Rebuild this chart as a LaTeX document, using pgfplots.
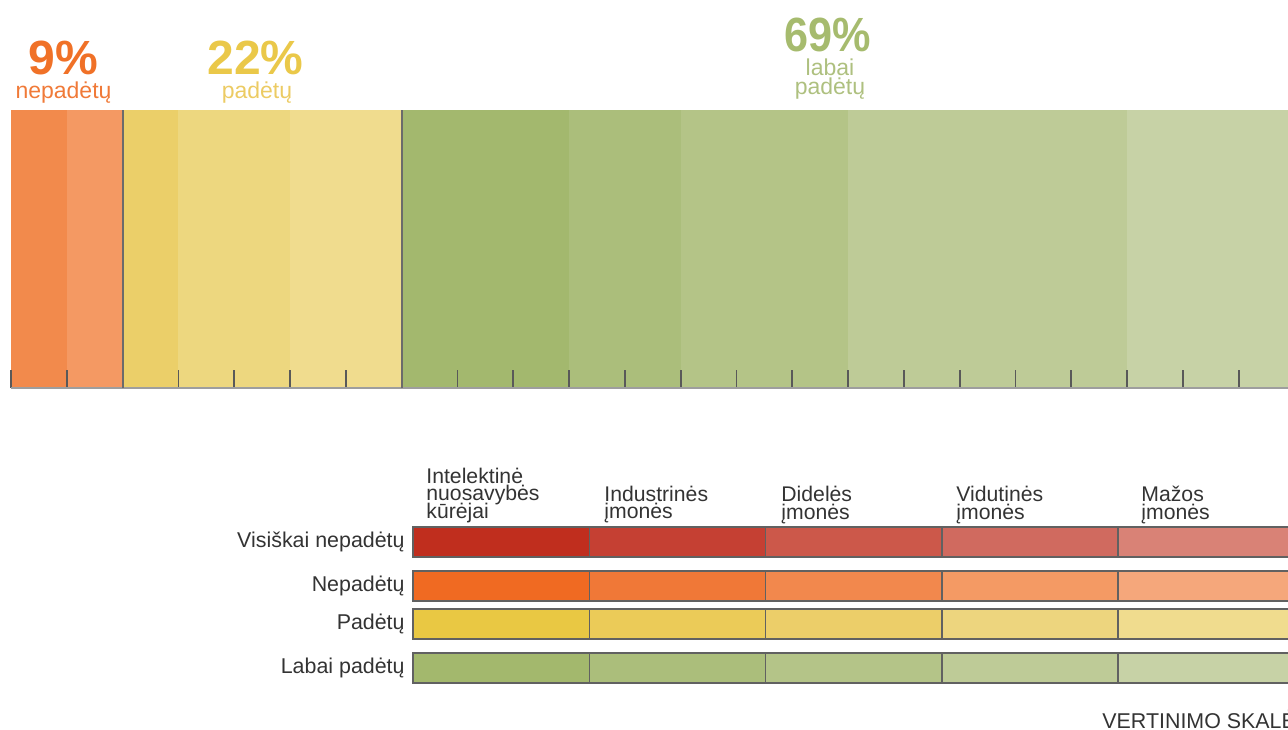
\documentclass[border=0pt]{standalone}
\usepackage{fontspec}
\setmainfont{Liberation Sans}
\usepackage{graphicx}
\usepackage{pgfplots}
\pgfplotsset{compat=1.18}

% top bar colours
\definecolor{tA}{HTML}{F28A4C}
\definecolor{tB}{HTML}{F49963}
\definecolor{tC}{HTML}{EBCF69}
\definecolor{tD}{HTML}{EDD77F}
\definecolor{tE}{HTML}{F0DC8E}
\definecolor{tF}{HTML}{A3B86E}
\definecolor{tG}{HTML}{ABBE7B}
\definecolor{tH}{HTML}{B4C487}
\definecolor{tI}{HTML}{BECB97}
\definecolor{tJ}{HTML}{C7D2A6}
% legend colours (row, column)
\definecolor{ra}{HTML}{C02E1E}
\definecolor{rb}{HTML}{C54033}
\definecolor{rc}{HTML}{CC584A}
\definecolor{rd}{HTML}{D06A5F}
\definecolor{re}{HTML}{D98276}
\definecolor{oa}{HTML}{F06A22}
\definecolor{ob}{HTML}{F07837}
\definecolor{oc}{HTML}{F2884D}
\definecolor{od}{HTML}{F49A64}
\definecolor{oe}{HTML}{F5A77B}
\definecolor{ya}{HTML}{E9C843}
\definecolor{yb}{HTML}{EBCB58}
\definecolor{yc}{HTML}{ECCE69}
\definecolor{yd}{HTML}{EDD57E}
\definecolor{ye}{HTML}{F0DC8E}
\definecolor{ga}{HTML}{A3B86D}
\definecolor{gb}{HTML}{ABBE7B}
\definecolor{gc}{HTML}{B4C488}
\definecolor{gd}{HTML}{BECB97}
\definecolor{ge}{HTML}{C7D2A6}
% text colours
\definecolor{txO}{HTML}{F07127}
\definecolor{txO2}{HTML}{F07A38}
\definecolor{txY}{HTML}{EAC849}
\definecolor{txY2}{HTML}{ECCB63}
\definecolor{txG}{HTML}{A6BB6E}
\definecolor{txG2}{HTML}{AEC07F}
\definecolor{txK}{HTML}{333333}

\begin{document}
\begin{tikzpicture}[x=0.5pt,y=0.5pt]
\useasboundingbox (0,0) rectangle (1288,729);
\clip (0,0) rectangle (1288,729);

% ---------- top stacked bar ----------
\begin{axis}[
  at={(5.5pt,170.5pt)}, anchor=south west,
  scale only axis, width=697.5pt, height=139pt,
  xmin=0, xmax=25, ymin=-1, ymax=1,
  xbar stacked, bar width=2,
  axis x line*=bottom, axis y line=none,
  axis line style={draw=black!38, line width=1pt},
  xtick={0,...,25}, xticklabels={\mbox{}},
  tick align=inside, major tick length=9pt,
  tick style={draw=black!65, line width=0.9pt},
  extra x ticks={2,7}, extra x tick labels={\mbox{},\mbox{}},
  extra x tick style={major tick length=139pt, tick style={draw=black!58, line width=1pt}},
  ytick=\empty,
  axis on top,
  every axis plot/.append style={draw=none},
]
\addplot[fill=tA] coordinates {(1,0)};
\addplot[fill=tB] coordinates {(1,0)};
\addplot[fill=tC] coordinates {(1,0)};
\addplot[fill=tD] coordinates {(2,0)};
\addplot[fill=tE] coordinates {(2,0)};
\addplot[fill=tF] coordinates {(3,0)};
\addplot[fill=tG] coordinates {(2,0)};
\addplot[fill=tH] coordinates {(3,0)};
\addplot[fill=tI] coordinates {(5,0)};
\addplot[fill=tJ] coordinates {(3.5,0)};
\end{axis}

% ---------- top labels ----------
\node[anchor=base, text=txO, inner sep=0pt] at (63.5,654) {\fontsize{24}{24}\selectfont\bfseries 9\%};
\node[anchor=base, text=txO2, inner sep=0pt] at (63.5,630) {\fontsize{11.5}{13}\selectfont nepadėtų};
\node[anchor=base, text=txY, inner sep=0pt] at (255.5,654) {\fontsize{24}{24}\selectfont\bfseries 22\%};
\node[anchor=base, text=txY2, inner sep=0pt] at (257,630) {\fontsize{11.5}{13}\selectfont padėtų};
\node[anchor=base, text=txG, inner sep=0pt] at (828,677) {\scalebox{0.9}[1]{\fontsize{24}{24}\selectfont\bfseries 69\%}};
\node[anchor=base, text=txG2, inner sep=0pt] at (830,653) {\fontsize{11.5}{13}\selectfont labai};
\node[anchor=base, text=txG2, inner sep=0pt] at (830,634) {\fontsize{11.5}{13}\selectfont padėtų};

% ---------- legend grid ----------
\begin{axis}[
  at={(206.5pt,14.5pt)}, anchor=south west,
  scale only axis, width=440.75pt, height=95pt,
  xmin=0, xmax=5, ymin=-700, ymax=-510,
  axis line style={draw=none},
  xtick=\empty,
  ytick={-668,-624,-586,-542},
  yticklabels={Labai padėtų, Padėtų, Nepadėtų, Visiškai nepadėtų},
  major tick length=0pt,
  yticklabel style={font=\fontsize{10.7}{12}\selectfont, text=txK, inner sep=0pt, xshift=-4pt},
  every axis plot/.append style={xbar, bar width=30, bar shift=0pt, draw=black!62, line width=0.8pt},
  clip=false,
]
% Visiškai nepadėtų
\addplot[fill=re] coordinates {(5,-542)};
\addplot[fill=rd] coordinates {(4,-542)};
\addplot[fill=rc] coordinates {(3,-542)};
\addplot[fill=rb] coordinates {(2,-542)};
\addplot[fill=ra] coordinates {(1,-542)};
% Nepadėtų
\addplot[fill=oe] coordinates {(5,-586)};
\addplot[fill=od] coordinates {(4,-586)};
\addplot[fill=oc] coordinates {(3,-586)};
\addplot[fill=ob] coordinates {(2,-586)};
\addplot[fill=oa] coordinates {(1,-586)};
% Padėtų
\addplot[fill=ye] coordinates {(5,-624)};
\addplot[fill=yd] coordinates {(4,-624)};
\addplot[fill=yc] coordinates {(3,-624)};
\addplot[fill=yb] coordinates {(2,-624)};
\addplot[fill=ya] coordinates {(1,-624)};
% Labai padėtų
\addplot[fill=ge] coordinates {(5,-668)};
\addplot[fill=gd] coordinates {(4,-668)};
\addplot[fill=gc] coordinates {(3,-668)};
\addplot[fill=gb] coordinates {(2,-668)};
\addplot[fill=ga] coordinates {(1,-668)};
\end{axis}

% ---------- column headers ----------
\begin{scope}[every node/.style={anchor=base west, inner sep=0pt, text=txK, font=\fontsize{10.6}{12}\selectfont}]
\node at (426,246) {Intelektinė};
\node at (426,228.5) {nuosavybės};
\node at (426,211) {kūrėjai};
\node at (604,228) {Industrinės};
\node at (604,210.5) {įmonės};
\node at (781,228) {Didelės};
\node at (781,210) {įmonės};
\node at (956,228) {Vidutinės};
\node at (956,210) {įmonės};
\node at (1141,228) {Mažos};
\node at (1141,210) {įmonės};
\node[font=\fontsize{10.7}{13}\selectfont] at (1102,1) {VERTINIMO SKALĖ};
\end{scope}
\end{tikzpicture}
\end{document}
